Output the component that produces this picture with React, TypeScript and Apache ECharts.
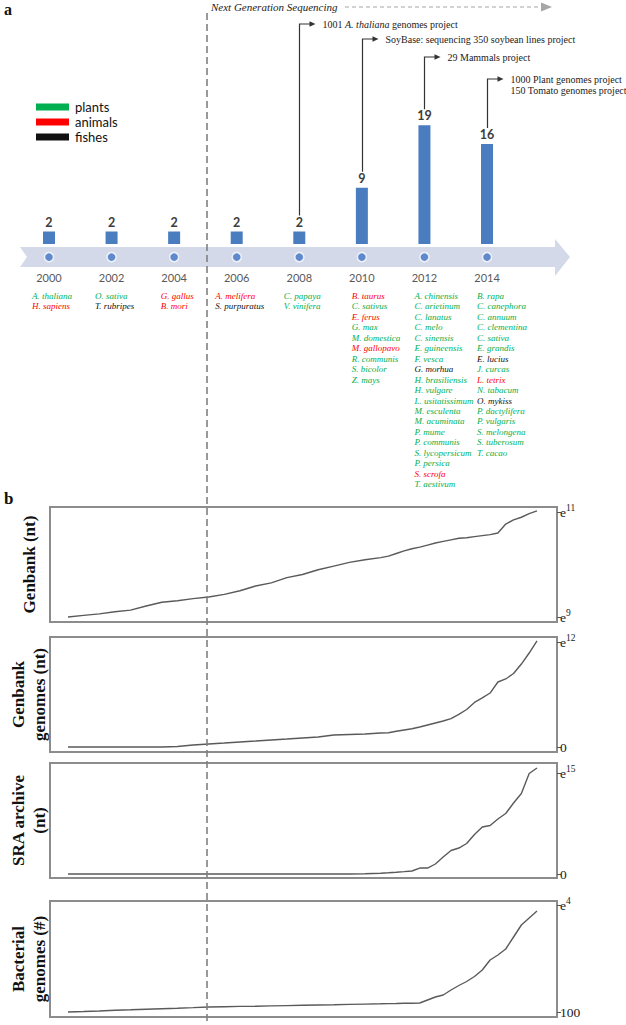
import React, { useEffect, useRef } from "react";
import * as echarts from "echarts";

// ---------------- Part a data ----------------
const timelineYears = ["2000", "2002", "2004", "2006", "2008", "2010", "2012", "2014"];
const genomesSequenced = [2, 2, 2, 2, 2, 9, 19, 16];

// group codes: p = plants, a = animals, f = fishes
const legendGroups: [string, string][] = [
  ["p", "plants"],
  ["a", "animals"],
  ["f", "fishes"],
];

const species2000: [string, string][] = [["A. thaliana", "p"], ["H. sapiens", "a"]];
const species2002: [string, string][] = [["O. sativa", "p"], ["T. rubripes", "f"]];
const species2004: [string, string][] = [["G. gallus", "a"], ["B. mori", "a"]];
const species2006: [string, string][] = [["A. melifera", "a"], ["S. purpuratus", "f"]];
const species2008: [string, string][] = [["C. papaya", "p"], ["V. vinifera", "p"]];
const species2010: [string, string][] = [
  ["B. taurus", "a"], ["C. sativus", "p"], ["E. ferus", "a"], ["G. max", "p"], ["M. domestica", "p"],
  ["M. gallopavo", "a"], ["R. communis", "p"], ["S. bicolor", "p"], ["Z. mays", "p"],
];
const species2012: [string, string][] = [
  ["A. chinensis", "p"], ["C. arietinum", "p"], ["C. lanatus", "p"], ["C. melo", "p"], ["C. sinensis", "p"],
  ["E. guineensis", "p"], ["F. vesca", "p"], ["G. morhua", "f"], ["H. brasiliensis", "p"], ["H. vulgare", "p"],
  ["L. usitatissimum", "p"], ["M. esculenta", "p"], ["M. acuminata", "p"], ["P. mume", "p"], ["P. communis", "p"],
  ["S. lycopersicum", "p"], ["P. persica", "p"], ["S. scrofa", "a"], ["T. aestivum", "p"],
];
const species2014: [string, string][] = [
  ["B. rapa", "p"], ["C. canephora", "p"], ["C. annuum", "p"], ["C. clementina", "p"], ["C. sativa", "p"],
  ["E. grandis", "p"], ["E. lucius", "f"], ["J. curcas", "p"], ["L. tetrix", "a"], ["N. tabacum", "p"],
  ["O. mykiss", "f"], ["P. dactylifera", "p"], ["P. vulgaris", "p"], ["S. melongena", "p"], ["S. tuberosum", "p"],
  ["T. cacao", "p"],
];
const speciesByYear = [species2000, species2002, species2004, species2006, species2008, species2010, species2012, species2014];

const projectYears = ["2008", "2010", "2012", "2014"];
const projectTexts: string[][] = [
  ["1001 {i|A. thaliana} genomes project"],
  ["SoyBase: sequencing 350 soybean lines project"],
  ["29 Mammals project"],
  ["1000 Plant genomes project", "150 Tomato genomes project"],
];
const ngsLabel = "Next Generation Sequencing";

// ---------------- Part b data ----------------
const tYears = [
  2000, 2000.5, 2001, 2001.5, 2002, 2002.5, 2003, 2003.5, 2004, 2004.5, 2005, 2005.5, 2006, 2006.5,
  2007, 2007.5, 2008, 2008.5, 2009, 2009.5, 2010, 2010.25, 2010.5, 2010.75, 2011, 2011.25, 2011.5,
  2011.75, 2012, 2012.25, 2012.5, 2012.75, 2013, 2013.25, 2013.5, 2013.75, 2014, 2014.25, 2014.5,
  2014.75, 2015,
];
// exponent (log10 of nt)
const genbankNtLog10 = [
  9.0, 9.03, 9.06, 9.1, 9.13, 9.21, 9.28, 9.31, 9.35, 9.38, 9.43, 9.5, 9.59, 9.65, 9.75, 9.81, 9.9,
  9.97, 10.04, 10.09, 10.13, 10.16, 10.21, 10.26, 10.3, 10.33, 10.37, 10.41, 10.44, 10.47, 10.5,
  10.51, 10.53, 10.55, 10.57, 10.6, 10.77, 10.85, 10.9, 10.97, 11.02,
];
// in units of 1e12 nt
const genbankGenomesE12 = [
  0, 0, 0, 0, 0, 0, 0, 0.005, 0.019, 0.029, 0.038, 0.048, 0.057, 0.067, 0.076, 0.086, 0.095, 0.114,
  0.119, 0.124, 0.133, 0.136, 0.15, 0.162, 0.174, 0.19, 0.21, 0.229, 0.248, 0.271, 0.31, 0.357, 0.424,
  0.467, 0.514, 0.619, 0.648, 0.7, 0.79, 0.895, 1.01,
];
// in units of 1e15 nt
const sraArchiveE15 = [
  0, 0, 0, 0, 0, 0, 0, 0, 0, 0, 0, 0, 0, 0, 0, 0, 0, 0, 0, 0.002, 0.008, 0.012, 0.017, 0.023, 0.03,
  0.059, 0.059, 0.099, 0.168, 0.233, 0.257, 0.302, 0.391, 0.465, 0.48, 0.545, 0.599, 0.703, 0.797,
  0.995, 1.05,
];
const bacterialGenomes = [
  100, 146, 193, 257, 304, 359, 405, 452, 507, 563, 590, 618, 637, 664, 692, 720, 748, 775, 803, 831,
  859, 877, 886, 905, 914, 933, 1210, 1488, 1673, 2135, 2552, 2922, 3384, 3986, 4911, 5374, 5929, 7039,
  8149, 8797, 9445,
];

const panelTitles = [["Genbank (nt)"], ["Genbank", "genomes (nt)"], ["SRA archive", "(nt)"], ["Bacterial", "genomes (#)"]];
const panelSeries = [genbankNtLog10, genbankGenomesE12, sraArchiveE15, bacterialGenomes];
const panelTicks = [[9, 11], [0, 1], [0, 1], [100, 10000]];
const panelTickLabels: [string, string][][] = [
  [["e", "9"], ["e", "11"]],
  [["0", ""], ["e", "12"]],
  [["0", ""], ["e", "15"]],
  [["100", ""], ["e", "4"]],
];

// ---------------- layout / style ----------------
const W = 626;
const H = 1025;
const SERIF = "'Liberation Serif', 'Times New Roman', serif";
const SANS = "Lato, 'Open Sans', sans-serif";
const groupColors: Record<string, string> = { p: "#00b050", a: "#ff0000", f: "#111111" };
const NGS_X = 207;
const TIMELINE_LEVEL = -2.1;
const projectTopY = [24, 39, 57, 79];
// panel boxes: top, height, pixel y of first tick, pixel y of last tick
const panelLayout = [
  { top: 507, height: 115, y0: 617, y1: 512 },
  { top: 637, height: 115, y0: 747, y1: 642 },
  { top: 763, height: 115, y0: 874, y1: 773 },
  { top: 901, height: 116, y0: 1012, y1: 905 },
];
const PANEL_LEFT = 50;
const PANEL_W = 507;
// x mapping: 2000 -> 68px, 2015 -> 537px
const X_MIN = 2000 - (68 - PANEL_LEFT) / 31.27;
const X_MAX = 2015 + (PANEL_LEFT + PANEL_W - 537) / 31.27;

const font = (size: number, opts: { italic?: boolean; bold?: boolean; family?: string } = {}) =>
  `${opts.italic ? "italic " : ""}${opts.bold ? "bold " : ""}${size}px ${opts.family || SERIF}`;

function buildOption() {
  const grids: any[] = [
    { left: 17.7, top: 119, width: 500.6, height: 150, outerBoundsMode: "none" },
  ];
  const xAxes: any[] = [
    {
      type: "category",
      gridIndex: 0,
      data: timelineYears,
      axisLine: { show: false, onZero: false },
      axisTick: { show: false },
      axisLabel: { margin: 3, color: "#595959", fontFamily: SANS, fontSize: 11 },
    },
  ];
  const yAxes: any[] = [{ type: "value", gridIndex: 0, min: -4, max: 20, show: false }];
  const series: any[] = [
    {
      type: "bar",
      xAxisIndex: 0,
      yAxisIndex: 0,
      data: genomesSequenced,
      barWidth: 12,
      itemStyle: { color: "#4a7dc0" },
      label: {
        show: true,
        position: "top",
        distance: 3,
        fontFamily: SANS,
        fontSize: 12.5,
        fontWeight: "bold",
        color: "#3c3c3c",
      },
      z: 3,
    },
    {
      type: "scatter",
      xAxisIndex: 0,
      yAxisIndex: 0,
      data: timelineYears.map(() => TIMELINE_LEVEL),
      symbolSize: 9,
      itemStyle: { color: "#4274c4", borderColor: "#ffffff", borderWidth: 1.5 },
      z: 4,
    },
  ];

  panelLayout.forEach((p, i) => {
    const ticks = panelTicks[i];
    const bottom = p.top + p.height;
    const upp = (ticks[1] - ticks[0]) / (p.y0 - p.y1);
    const min = ticks[0] - (bottom - p.y0) * upp;
    const max = ticks[1] + (p.y1 - p.top) * upp;
    const gi = i + 1;
    grids.push({
      left: PANEL_LEFT,
      top: p.top,
      width: PANEL_W,
      height: p.height,
      show: true,
      borderColor: "#8c8c8c",
      borderWidth: 2,
      backgroundColor: "transparent",
      outerBoundsMode: "none",
    });
    xAxes.push({ type: "value", gridIndex: gi, min: X_MIN, max: X_MAX, show: false });
    yAxes.push({
      type: "value",
      gridIndex: gi,
      position: "right",
      min,
      max,
      splitLine: { show: false },
      axisLine: { show: false },
      axisTick: { show: true, length: 4, customValues: ticks, lineStyle: { color: "#555", width: 1 } },
      axisLabel: {
        customValues: ticks,
        margin: 3,
        formatter: (v: number) => {
          let k = 0;
          if (Math.abs(v - ticks[1]) < Math.abs(v - ticks[0])) k = 1;
          const [b, s] = panelTickLabels[i][k];
          return s ? `{b|${b}}{s|${s}}` : `{b|${b}}`;
        },
        rich: {
          b: { fontFamily: SERIF, fontSize: 13.5, color: "#222", lineHeight: 18 },
          s: { fontFamily: SERIF, fontSize: 9.5, color: "#222", lineHeight: 11, verticalAlign: "top" },
        },
      },
    });
    series.push({
      type: "line",
      xAxisIndex: gi,
      yAxisIndex: gi,
      data: tYears.map((t, j) => [t, panelSeries[i][j]]),
      symbol: "none",
      showSymbol: false,
      lineStyle: { color: "#5a5a5a", width: 1.4 },
      silent: true,
    });
  });

  return { animation: false, backgroundColor: "#ffffff", grid: grids, xAxis: xAxes, yAxis: yAxes, series };
}

// wrap plain segments of a rich string into {r|...} tokens
function toTokens(s: string) {
  const out: string[] = [];
  const re = /\{(\w+)\|([^}]*)\}/g;
  let last = 0;
  let m: RegExpExecArray | null;
  while ((m = re.exec(s))) {
    if (m.index > last) out.push(`{r|${s.slice(last, m.index)}}`);
    out.push(m[0]);
    last = m.index + m[0].length;
  }
  if (last < s.length) out.push(`{r|${s.slice(last)}}`);
  return out.join("");
}

function buildGraphics(chart: any) {
  const ctx = document.createElement("canvas").getContext("2d")!;
  const measure = (t: string, f: string) => {
    ctx.font = f;
    return ctx.measureText(t).width;
  };
  const g: any[] = [];

  // panel letters
  g.push({ type: "text", x: 4, y: 9, style: { text: "a", font: font(16, { bold: true }), fill: "#111", verticalAlign: "middle" } });
  g.push({ type: "text", x: 4, y: 498, style: { text: "b", font: font(17, { bold: true }), fill: "#111", verticalAlign: "middle" } });

  // NGS header
  g.push({ type: "text", x: 211, y: 7, style: { text: ngsLabel, font: font(11, { italic: true }), fill: "#222", verticalAlign: "middle" } });
  g.push({ type: "line", shape: { x1: 345, y1: 7, x2: 542, y2: 7 }, style: { stroke: "#a6a6a6", lineWidth: 1.2, lineDash: [4, 3] } });
  g.push({ type: "polygon", shape: { points: [[541, 2.5], [552, 7], [541, 11.5]] }, style: { fill: "#a6a6a6" } });

  // timeline band
  g.push({
    type: "polygon",
    z: 0,
    shape: { points: [[20, 247], [555, 247], [555, 239], [570, 257], [555, 276], [555, 267], [20, 267], [27, 257]] },
    style: { fill: "#d3d9e8" },
  });

  // NGS dashed divider
  g.push({ type: "line", z: 100, shape: { x1: NGS_X, y1: 13, x2: NGS_X, y2: 1022 }, style: { stroke: "#808080", lineWidth: 1.6, lineDash: [7, 4] } });

  // legend
  legendGroups.forEach(([key, label], i) => {
    const cy = 107 + i * 15;
    g.push({ type: "rect", shape: { x: 36, y: cy - 3.5, width: 33, height: 7 }, style: { fill: groupColors[key] } });
    g.push({ type: "text", x: 75, y: cy, style: { text: label, font: font(13, { family: SANS }), fill: "#111", verticalAlign: "middle" } });
  });

  // species lists
  const spFont = font(9, { italic: true });
  speciesByYear.forEach((list, i) => {
    const [cx] = chart.convertToPixel({ seriesIndex: 0 }, [i, 0]);
    let left: number;
    if (list.length <= 2) {
      const mw = Math.max(...list.map(([n]) => measure(n, spFont)));
      left = cx + 3 - mw / 2;
    } else {
      left = cx - 10;
    }
    list.forEach(([name, grp], j) => {
      g.push({
        type: "text",
        x: left,
        y: 296 + j * 10.45,
        style: { text: name, font: spFont, fill: groupColors[grp], verticalAlign: "middle" },
      });
    });
  });

  // project annotations
  const tokStyle = { fontFamily: SERIF, fontSize: 10, fill: "#222", lineHeight: 11 };
  projectYears.forEach((yr, k) => {
    const i = timelineYears.indexOf(yr);
    const [cx, ty] = chart.convertToPixel({ seriesIndex: 0 }, [i, genomesSequenced[i]]);
    const x = Math.round(cx) + 0.5;
    const topY = projectTopY[k];
    const tipX = x + 16;
    g.push({ type: "polyline", shape: { points: [[x, ty - 16], [x, topY], [tipX - 5, topY]] }, style: { stroke: "#333", lineWidth: 1.2, fill: null } });
    g.push({ type: "polygon", shape: { points: [[tipX - 6, topY - 2.8], [tipX, topY], [tipX - 6, topY + 2.8]] }, style: { fill: "#333" } });
    const lines = projectTexts[k];
    g.push({
      type: "text",
      x: tipX + 7,
      y: topY - 5.5,
      style: {
        text: lines.map(toTokens).join("\n"),
        font: font(10),
        fill: "#222",
        lineHeight: 11,
        verticalAlign: "top",
        rich: {
          r: { ...tokStyle, fontStyle: "normal" },
          i: { ...tokStyle, fontStyle: "italic" },
        },
      },
    });
  });

  // panel titles
  panelLayout.forEach((p, i) => {
    const lines = panelTitles[i];
    g.push({
      type: "text",
      x: lines.length > 1 ? 29 : 29,
      y: p.top + p.height / 2,
      rotation: Math.PI / 2,
      style: {
        text: lines.join("\n"),
        font: font(17, { bold: true }),
        fill: "#111",
        align: "center",
        verticalAlign: "middle",
        lineHeight: 21,
      },
    });
  });

  return g;
}

export default function App() {
  const ref = useRef<HTMLDivElement>(null);
  useEffect(() => {
    const el = ref.current!;
    const chart = echarts.init(el, null, { renderer: "svg" });
    chart.setOption(buildOption());
    chart.setOption({ graphic: buildGraphics(chart) });
    return () => chart.dispose();
  }, []);
  return (
    <div
      ref={ref}
      style={{ position: "absolute", left: 0, top: 0, width: W, height: H, background: "#fff" }}
    />
  );
}
